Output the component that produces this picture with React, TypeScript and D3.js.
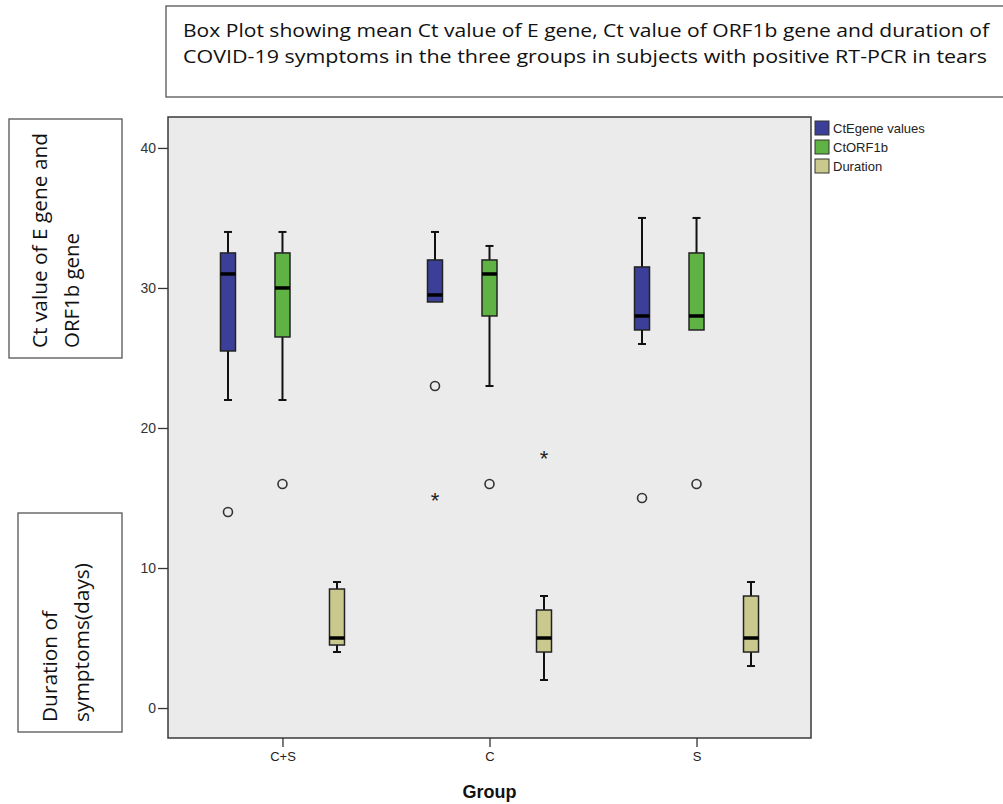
import { useRef, useEffect } from "react"
import * as d3 from "d3"

const groups = ["C+S", "C", "S"]
const seriesNames = ["CtEgene values", "CtORF1b", "Duration"]
const seriesColors = ["#3c3f98", "#5fb344", "#c9c98e"]

// [min, q1, median, q3, max] per group
const egeneStats = [
  [22, 25.5, 31, 32.5, 34],
  [29, 29, 29.5, 32, 34],
  [26, 27, 28, 31.5, 35],
]
const orf1bStats = [
  [22, 26.5, 30, 32.5, 34],
  [23, 28, 31, 32, 33],
  [27, 27, 28, 32.5, 35],
]
const durationStats = [
  [4, 4.5, 5, 8.5, 9],
  [2, 4, 5, 7, 8],
  [3, 4, 5, 8, 9],
]

// outliers: circles (mild) and stars (extreme), per group
const egeneCircles = [[14], [23], [15]]
const egeneStars = [[], [15], []]
const orf1bCircles = [[16], [16], [16]]
const orf1bStars = [[], [], []]
const durationCircles = [[], [], []]
const durationStars = [[], [18], []]

const yTicks = [0, 10, 20, 30, 40]

const App = () => {
  const svgRef = useRef<SVGSVGElement>(null)

  useEffect(() => {
    const svg = d3.select(svgRef.current)
    svg.selectAll("*").remove()

    const plot = { left: 168, right: 811, top: 117, bottom: 738 }

    const stats = [egeneStats, orf1bStats, durationStats]
    const circles = [egeneCircles, orf1bCircles, durationCircles]
    const stars = [egeneStars, orf1bStars, durationStars]

    const x = d3.scalePoint().domain(groups).range([plot.left, plot.right]).padding(0.553)
    const offset = d3.scalePoint().domain(seriesNames).range([-54.5, 54.5])
    const y = d3.scaleLinear().domain([-2.14, 42.21]).range([plot.bottom, plot.top])
    const boxW = 15

    // title box
    svg.append("rect")
      .attr("x", 166).attr("y", 6).attr("width", 850).attr("height", 91)
      .attr("fill", "white").attr("stroke", "#555").attr("stroke-width", 1.3)
    const titleLines = [
      "Box Plot showing mean Ct value of E gene, Ct value of ORF1b gene and duration of",
      "COVID-19 symptoms in the three groups in subjects with positive RT-PCR in tears",
    ]
    const titleLen = [806, 804]
    titleLines.forEach((t, i) => {
      svg.append("text")
        .attr("x", 183).attr("y", 37 + i * 26)
        .attr("textLength", titleLen[i]).attr("lengthAdjust", "spacingAndGlyphs")
        .style("font-family", "'Open Sans', sans-serif").style("font-size", "19px")
        .attr("fill", "#111")
        .text(t)
    })

    // y label boxes
    const labelBoxes = [
      { x: 9, y: 119, w: 113, h: 239, lines: ["Ct value of E gene and", "ORF1b gene"], len: [215, 115], lx: [47, 79], by: 348 },
      { x: 18, y: 513, w: 104, h: 219, lines: ["Duration of", "symptoms(days)"], len: [111, 159], lx: [57, 89], by: 722 },
    ]
    labelBoxes.forEach((b) => {
      svg.append("rect")
        .attr("x", b.x).attr("y", b.y).attr("width", b.w).attr("height", b.h)
        .attr("fill", "white").attr("stroke", "#555").attr("stroke-width", 1.3)
      b.lines.forEach((t, i) => {
        svg.append("text")
          .attr("transform", `translate(${b.lx[i]},${b.by}) rotate(-90)`)
          .attr("textLength", b.len[i]).attr("lengthAdjust", "spacingAndGlyphs")
          .style("font-family", "'Open Sans', sans-serif").style("font-size", "20px")
          .attr("fill", "#111")
          .text(t)
      })
    })

    // plot area
    svg.append("rect")
      .attr("x", plot.left).attr("y", plot.top)
      .attr("width", plot.right - plot.left).attr("height", plot.bottom - plot.top)
      .attr("fill", "#ebebeb").attr("stroke", "#3a3a3a").attr("stroke-width", 1.5)

    // y axis
    const yAxis = svg.append("g")
      .attr("transform", `translate(${plot.left},0)`)
      .call(d3.axisLeft(y).tickValues(yTicks).tickSize(10).tickPadding(2))
    yAxis.select(".domain").remove()
    yAxis.selectAll("line").attr("stroke", "#333").attr("stroke-width", 1.3)
    yAxis.selectAll("text")
      .style("font-family", "Arial, 'Liberation Sans', sans-serif").style("font-size", "14px")
      .attr("fill", "#333")

    // x axis
    const xAxis = svg.append("g")
      .attr("transform", `translate(0,${plot.bottom})`)
      .call(d3.axisBottom(x).tickSize(9).tickPadding(5))
    xAxis.select(".domain").remove()
    xAxis.selectAll("line").attr("stroke", "#333").attr("stroke-width", 1.3)
    xAxis.selectAll("text")
      .style("font-family", "Arial, 'Liberation Sans', sans-serif").style("font-size", "13px")
      .attr("fill", "#222")

    svg.append("text")
      .attr("x", x("C") as number).attr("y", 798)
      .attr("text-anchor", "middle")
      .style("font-family", "Arial, 'Liberation Sans', sans-serif").style("font-size", "18px")
      .style("font-weight", "bold").attr("fill", "#111")
      .text("Group")

    // boxes
    seriesNames.forEach((s, si) => {
      groups.forEach((g, gi) => {
        const cx = (x(g) as number) + (offset(s) as number)
        const [mn, q1, md, q3, mx] = stats[si][gi]
        const gEl = svg.append("g")
        // whiskers
        gEl.append("line").attr("x1", cx).attr("x2", cx).attr("y1", y(mx)).attr("y2", y(q3))
          .attr("stroke", "#111").attr("stroke-width", 2)
        gEl.append("line").attr("x1", cx).attr("x2", cx).attr("y1", y(q1)).attr("y2", y(mn))
          .attr("stroke", "#111").attr("stroke-width", 2)
        if (mx > q3)
          gEl.append("line").attr("x1", cx - 4).attr("x2", cx + 4).attr("y1", y(mx)).attr("y2", y(mx))
            .attr("stroke", "#111").attr("stroke-width", 2)
        if (mn < q1)
          gEl.append("line").attr("x1", cx - 4).attr("x2", cx + 4).attr("y1", y(mn)).attr("y2", y(mn))
            .attr("stroke", "#111").attr("stroke-width", 2)
        gEl.append("rect")
          .attr("x", cx - boxW / 2).attr("y", y(q3))
          .attr("width", boxW).attr("height", y(q1) - y(q3))
          .attr("fill", seriesColors[si]).attr("stroke", "#222").attr("stroke-width", 1.5)
        gEl.append("line").attr("x1", cx - boxW / 2).attr("x2", cx + boxW / 2)
          .attr("y1", y(md)).attr("y2", y(md))
          .attr("stroke", "#000").attr("stroke-width", 3.5)

        circles[si][gi].forEach((v) => {
          gEl.append("circle").attr("cx", cx).attr("cy", y(v)).attr("r", 4.5)
            .attr("fill", "none").attr("stroke", "#333").attr("stroke-width", 1.6)
        })
        stars[si][gi].forEach((v) => {
          gEl.append("text").attr("x", cx).attr("y", y(v) + 10)
            .attr("text-anchor", "middle")
            .style("font-family", "Arial, 'Liberation Sans', sans-serif").style("font-size", "22px")
            .attr("fill", "#222")
            .text("*")
        })
      })
    })

    // legend
    seriesNames.forEach((s, i) => {
      const ly = 121 + i * 19
      svg.append("rect").attr("x", 815).attr("y", ly).attr("width", 14).attr("height", 14)
        .attr("fill", seriesColors[i]).attr("stroke", "#333").attr("stroke-width", 1)
      svg.append("text").attr("x", 833).attr("y", ly + 12)
        .style("font-family", "Arial, 'Liberation Sans', sans-serif").style("font-size", "13px")
        .attr("fill", "#222")
        .text(s)
    })
  }, [])

  return (
    <svg ref={svgRef} width={1003} height={804} style={{ position: "absolute", left: 0, top: 0, background: "white" }} />
  )
}

export default App
